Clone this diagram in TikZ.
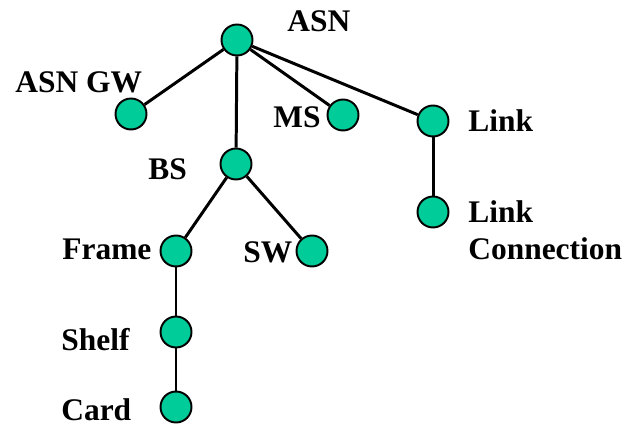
\documentclass[tikz,border=0pt]{standalone}
\usepackage{fontspec}
\setmainfont{Liberation Serif}
\usepackage{tikz}
\definecolor{NodeGreen}{HTML}{00CC99}

\tikzset{
  dot/.style={circle, draw=black, line width=1.1pt, fill=NodeGreen, minimum size=0.62cm, inner sep=0pt},
  tag/.style={anchor=base west, inner sep=0pt, font=\fontsize{17.9}{21}\selectfont\bfseries},
  link/.style={line width=1.7pt}
}

\begin{document}
\begin{tikzpicture}[x=0.02cm,y=-0.02cm]
        \useasboundingbox (0,0) rectangle (625,425);

        % tree nodes
        \node[dot] (asn) at (237,40) {};
        \node[dot] (asngw) at (131,114) {};
        \node[dot] (ms) at (343,115) {};
        \node[dot] (lnk) at (433,121) {};
        \node[dot] (bs) at (236,164) {};
        \node[dot] (lnkcon) at (433,212) {};
        \node[dot] (frame) at (176,251) {};
        \node[dot] (sw) at (312,251) {};
        \node[dot] (shelf) at (176,332) {};
        \node[dot] (card) at (176,407) {};

        % names
        \node[tag] (asnTxt) at (287,32) {ASN};
        \node[tag] (asngwTxt) at (15,93) {ASN GW};
        \node[tag] (msTxt) at (273,128) {MS};
        \node[tag] (lnkTxt) at (468,132) {Link};
        \node[tag] (bsTxt) at (148,180) {BS};
        \node[tag] (lnkconTxt) at (468,223) {Link};
        \node[tag] (lnkconTxtB) at (468,260) {Connection};
        \node[tag] (frameTxt) at (62,260) {Frame};
        \node[tag] (swTxt) at (243,263) {SW};
        \node[tag] (shelfTxt) at (61,350) {Shelf};
        \node[tag] (cardTxt) at (61,420) {Card};

        % branches
        \draw[link] (asn) -- (asngw);
        \draw[link] (asn) -- (bs);
        \draw[link] (asn) -- (ms);
        \draw[link] (asn) -- (lnk);
        \draw[link] (lnk) -- (lnkcon);
        \draw[link] (bs) -- (frame);
        \draw[link] (bs) -- (sw);
        \draw[link] (frame) -- (shelf);
        \draw[link] (shelf) -- (card);
\end{tikzpicture}
\end{document}
